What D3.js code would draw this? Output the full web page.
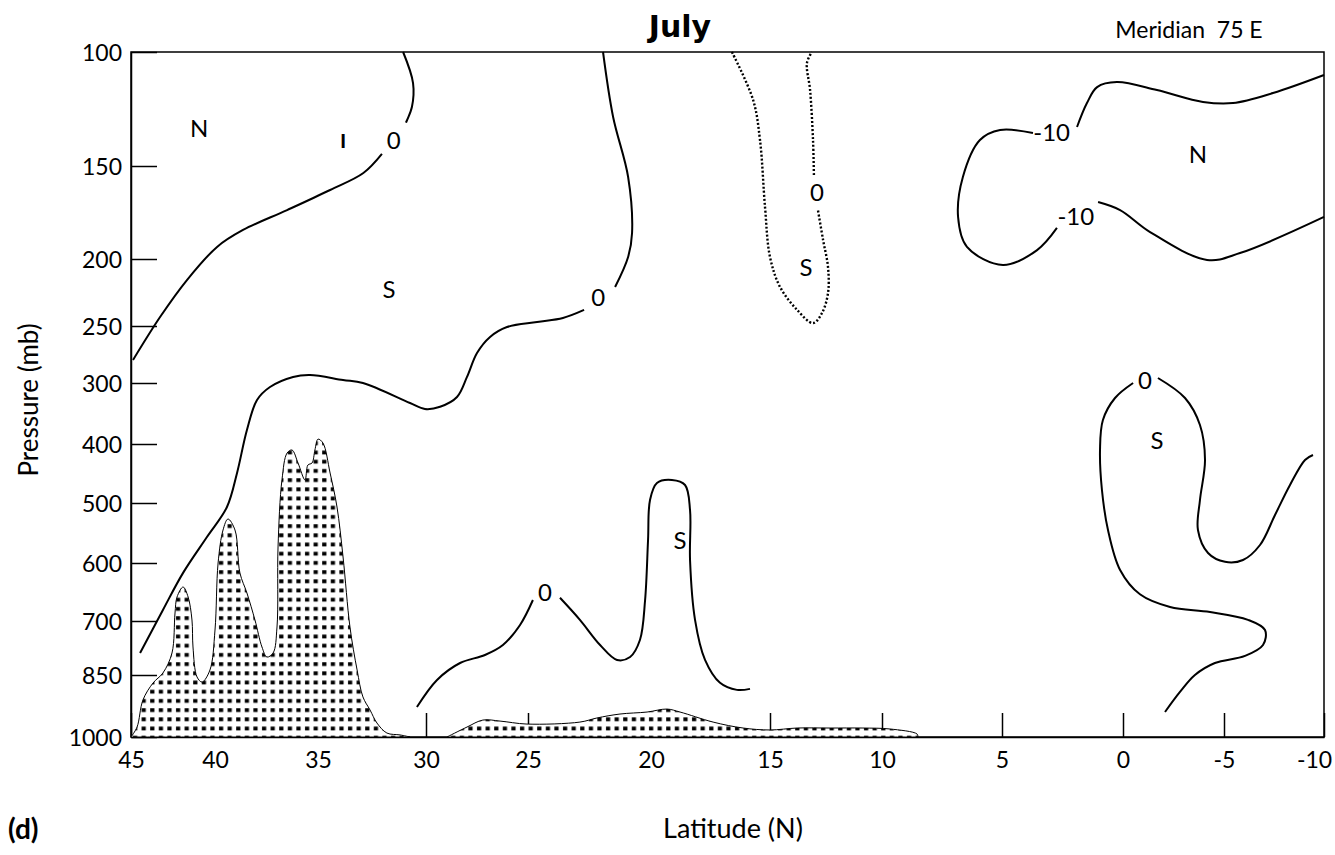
<!DOCTYPE html>
<html>
<head>
<meta charset="utf-8">
<script src="https://cdn.jsdelivr.net/npm/d3@7"></script>
<style>
  body { margin: 0; background: #fff; }
  text { font-family: Lato, "Noto Sans", sans-serif; fill: #000; }
  .axis path, .axis line { stroke: #000; stroke-width: 1.5; }
  .axis text { font-size: 23px; font-family: Lato, "Noto Sans", sans-serif; }
  .contour { fill: none; stroke: #000; stroke-width: 2; }
  .dotted { fill: none; stroke: #000; stroke-width: 2.4; stroke-dasharray: 2 2; }
  .terrain { stroke: #000; stroke-width: 1; fill: url(#dots); }
</style>
</head>
<body>
<svg id="chart"></svg>
<script>
// Tick labels
const latTicks = [45, 40, 35, 30, 25, 20, 15, 10, 5, 0, -5, -10];
const presTicks = [100, 150, 200, 250, 300, 400, 500, 600, 700, 850, 1000];

// Contours: [latitude, pressure]
const zeroNorthA = [[31.06,100],[30.6,113.6],[30.65,124],[30.93,131]];
const zeroNorthB = [[32.04,144.7],[32.9,153.8],[34.44,162.9],[36.5,173.7],[38.64,184.4],[39.9,193.5],[41.67,215.7],[43.27,243.3],[44.88,279.8]];
const zeroMidA = [[21.95,100],[21.54,128.5],[20.93,155.9],[20.77,186],[20.93,198.9],[21.46,220.9]];
const zeroMidB = [[22.72,238],[23.58,244],[24.63,247],[26.03,250.9],[26.86,259.6],[27.5,273.7],[27.99,294.7],[28.48,323],[29.31,339],[30.05,342.6],[30.74,332.8],[32.92,300],[33.84,297.4],[35.39,293],[36.21,294.7],[37.33,306.6],[37.96,327.9],[38.45,377],[38.93,449],[39.42,506.7],[40.48,556.7],[41.9,617],[43.1,681],[44.46,788.9]];
const dottedA = [[16.6,100],[15.71,121],[15.42,138.6],[15.21,172],[15.0,198.9],[14.55,220.9],[13.79,238],[13.08,247.8],[12.68,240.3],[12.41,225.4],[12.41,206],[12.63,189.8],[12.86,173.7]];
const dottedB = [[13.04,154.8],[13.08,138.6],[13.21,116.7],[13.35,104.8],[13.13,100]];
const minusTenA = [[-10,110.1],[-7.45,118],[-5.45,122.4],[-3.96,121.9],[-1.68,116.7],[0.25,113.2],[1.07,115.4],[1.49,122.4],[1.9,132.9]];
const minusTenB = [[3.72,135.5],[5.08,134.2],[5.92,138.6],[6.63,155.9],[6.83,177.4],[6.46,193.5],[4.96,204.5],[3.55,195.2],[2.73,183.3]];
const minusTenC = [[1.03,169.4],[0.12,173.7],[-1.34,185.5],[-4.16,200.7],[-5.8,196.8],[-10,177.4]];
const zeroEastA = [[-1.73,295.6],[-3.07,324.6],[-3.81,368.9],[-4.06,427],[-3.81,494.9],[-3.71,545],[-4.21,583.3],[-5.05,598],[-5.95,595],[-6.8,570],[-7.55,520],[-8.3,469.5],[-9.05,427],[-9.45,418.6]];
const zeroEastB = [[-0.5,300],[0.33,324.6],[0.83,360.7],[0.95,410.2],[0.87,478],[0.62,545],[0.12,612],[-0.84,654],[-2.33,675.9],[-4.31,684.5],[-6.2,698],[-7.05,725],[-6.95,766.7],[-6.05,797],[-4.55,816.7],[-3.56,850],[-2.82,891],[-2.08,939.5]];
const zeroLowA = [[30.42,927.5],[29.46,862],[28.33,816.7],[27.11,794.4],[26.23,766.7],[25.39,711],[24.8,663.8]];
const zeroLowB = [[23.7,660],[22.89,698],[22.07,766.7],[21.38,808.3],[20.85,800],[20.45,752.8],[20.24,663.8],[20.12,561.7],[20.04,494.9],[19.75,466],[19.12,461],[18.57,469.5],[18.36,511.7],[18.36,595],[18.15,698],[17.73,808],[17.1,869],[16.39,886],[15.84,883.6]];

// Topography (surface pressure along the meridian)
const terrainWest = [[45,1000],[44.64,975.9],[44.29,910.5],[43.69,869.4],[43.1,844.4],[42.56,788.9],[42.38,686.2],[42.26,658.6],[41.9,641.4],[41.6,658.6],[41.37,698.3],[41.31,772.2],[41.07,854.8],[40.77,867],[40.3,836],[40,725],[39.85,600],[39.61,545],[39.37,526.7],[39.03,545],[38.79,617.2],[38.45,651.7],[38.06,698.3],[37.72,772.2],[37.48,800],[37.18,788.9],[36.99,716.7],[36.94,573.3],[36.75,461],[36.5,415.3],[36.26,410.2],[35.97,432.2],[35.63,461],[35.49,435.6],[35.29,432.2],[35.15,410.2],[35.0,392],[34.77,398.4],[34.44,449.2],[34.12,506.7],[33.84,590],[33.52,716.7],[33.19,836],[32.92,903],[32.59,934.7],[32.27,966.2],[31.81,990.4],[31.2,995],[30.74,1000]];
const terrainSouth = [[28.97,1000],[27.99,975.9],[27.21,959],[26.37,961.5],[25.05,968.7],[22.89,963.9],[22.2,954],[21.26,944.4],[20.16,939.6],[19.33,932.4],[18.78,939.6],[17.39,963.9],[16.13,978.3],[15,983],[13.79,978.3],[12.32,978.3],[10.85,978.3],[9.67,980.6],[8.54,992.7],[8.5,1000]];

// Labels
const contourLabels = [
  { text: "0", lat: 31.5, p: 139 },
  { text: "0", lat: 22.15, p: 229.1 },
  { text: "0", lat: 12.9, p: 164.5 },
  { text: "-10", lat: 2.95, p: 135.5 },
  { text: "-10", lat: 1.95, p: 177.4 },
  { text: "0", lat: -1.09, p: 298 },
  { text: "0", lat: 24.31, p: 651 }
];
const regionLabels = [
  { text: "N", lat: 40.95, p: 133.8 },
  { text: "S", lat: 31.71, p: 223 },
  { text: "S", lat: 13.39, p: 206.7 },
  { text: "N", lat: -3.71, p: 145 },
  { text: "S", lat: -1.68, p: 395 },
  { text: "S", lat: 18.78, p: 563 }
];

// Configuration
const margin = { top: 52, right: 11, bottom: 118, left: 131 };
const width = 1335 - margin.left - margin.right;
const height = 855 - margin.top - margin.bottom;

const svgRoot = d3.select("#chart").attr("width", 1335).attr("height", 855);
const defs = svgRoot.append("defs");
const pat = defs.append("pattern").attr("id", "dots")
  .attr("patternUnits", "userSpaceOnUse").attr("width", 8.6).attr("height", 9.2);
pat.append("rect").attr("width", 8.6).attr("height", 9.2).attr("fill", "#fff");
pat.append("rect").attr("x", 2).attr("y", 3).attr("width", 4.2).attr("height", 3.8).attr("fill", "#000");

const svg = svgRoot.append("g").attr("transform", `translate(${margin.left},${margin.top})`);

// Scales (the original axes are hand-spaced, so both are piecewise linear)
const x = d3.scaleLinear().domain(latTicks)
  .range([0, 84, 187, 295, 397, 520, 639, 751, 871, 992, 1093, 1193]);
const y = d3.scaleLinear().domain(presTicks)
  .range([0, 114, 207, 274, 331, 392, 451, 511, 569, 623, 685]);

// Axes
const xAxis = svg.append("g").attr("class", "axis")
  .attr("transform", `translate(0,${height})`)
  .call(d3.axisBottom(x).tickValues(latTicks).tickFormat(d => String(d))
    .tickSize(-24).tickPadding(15).tickSizeOuter(0));
xAxis.selectAll(".tick text").filter(d => d === -10).attr("dx", "-10");
svg.append("g").attr("class", "axis")
  .call(d3.axisLeft(y).tickValues(presTicks).tickFormat(d => String(d))
    .tickSize(-26).tickPadding(9).tickSizeOuter(0))
  .selectAll("text").attr("dy", "0.35em");

// Frame
svg.append("rect").attr("width", width).attr("height", height)
  .attr("fill", "none").attr("stroke", "#000").attr("stroke-width", 1.5);

// Terrain
const area = d3.area()
  .x(d => x(d[0])).y0(y(1000)).y1(d => y(d[1]))
  .curve(d3.curveCatmullRom.alpha(0.5));
[terrainWest, terrainSouth].forEach(t => {
  svg.append("path").datum(t).attr("class", "terrain").attr("d", area);
});

// Contours
const line = d3.line().x(d => x(d[0])).y(d => y(d[1])).curve(d3.curveCatmullRom.alpha(0.5));
[zeroNorthA, zeroNorthB, zeroMidA, zeroMidB, minusTenA, minusTenB, minusTenC,
 zeroEastA, zeroEastB, zeroLowA, zeroLowB].forEach(c => {
  svg.append("path").datum(c).attr("class", "contour").attr("d", line);
});
[dottedA, dottedB].forEach(c => {
  svg.append("path").datum(c).attr("class", "dotted").attr("d", line);
});

svg.selectAll(".clabel").data(contourLabels).join("text")
  .attr("x", d => x(d.lat)).attr("y", d => y(d.p)).attr("dy", "0.35em")
  .attr("text-anchor", "middle").style("font-size", "24px").text(d => d.text);
svg.selectAll(".rlabel").data(regionLabels).join("text")
  .attr("x", d => x(d.lat)).attr("y", d => y(d.p)).attr("dy", "0.35em")
  .attr("text-anchor", "middle").style("font-size", "24px").text(d => d.text);
svg.append("text").attr("x", x(33.84)).attr("y", y(139)).attr("dy", "0.35em")
  .attr("text-anchor", "middle").style("font-size", "19px").style("font-weight", "900").text("I");

// Titles
svgRoot.append("text").attr("x", 680).attr("y", 37).attr("text-anchor", "middle")
  .style("font-family", "'DejaVu Sans', sans-serif").style("font-weight", "bold")
  .style("font-size", "30px").text("July");
svgRoot.append("text").attr("x", 1189).attr("y", 38).attr("text-anchor", "middle")
  .style("font-size", "23px").style("white-space", "pre").text("Meridian  75 E");
svgRoot.append("text").attr("transform", "translate(38,400) rotate(-90)").attr("text-anchor", "middle")
  .style("font-size", "26px").text("Pressure (mb)");
svgRoot.append("text").attr("x", 733).attr("y", 838).attr("text-anchor", "middle")
  .style("font-size", "27px").text("Latitude (N)");
svgRoot.append("text").attr("x", 8).attr("y", 839)
  .style("font-size", "28px").style("font-weight", "bold").text("(d)");
</script>
</body>
</html>
